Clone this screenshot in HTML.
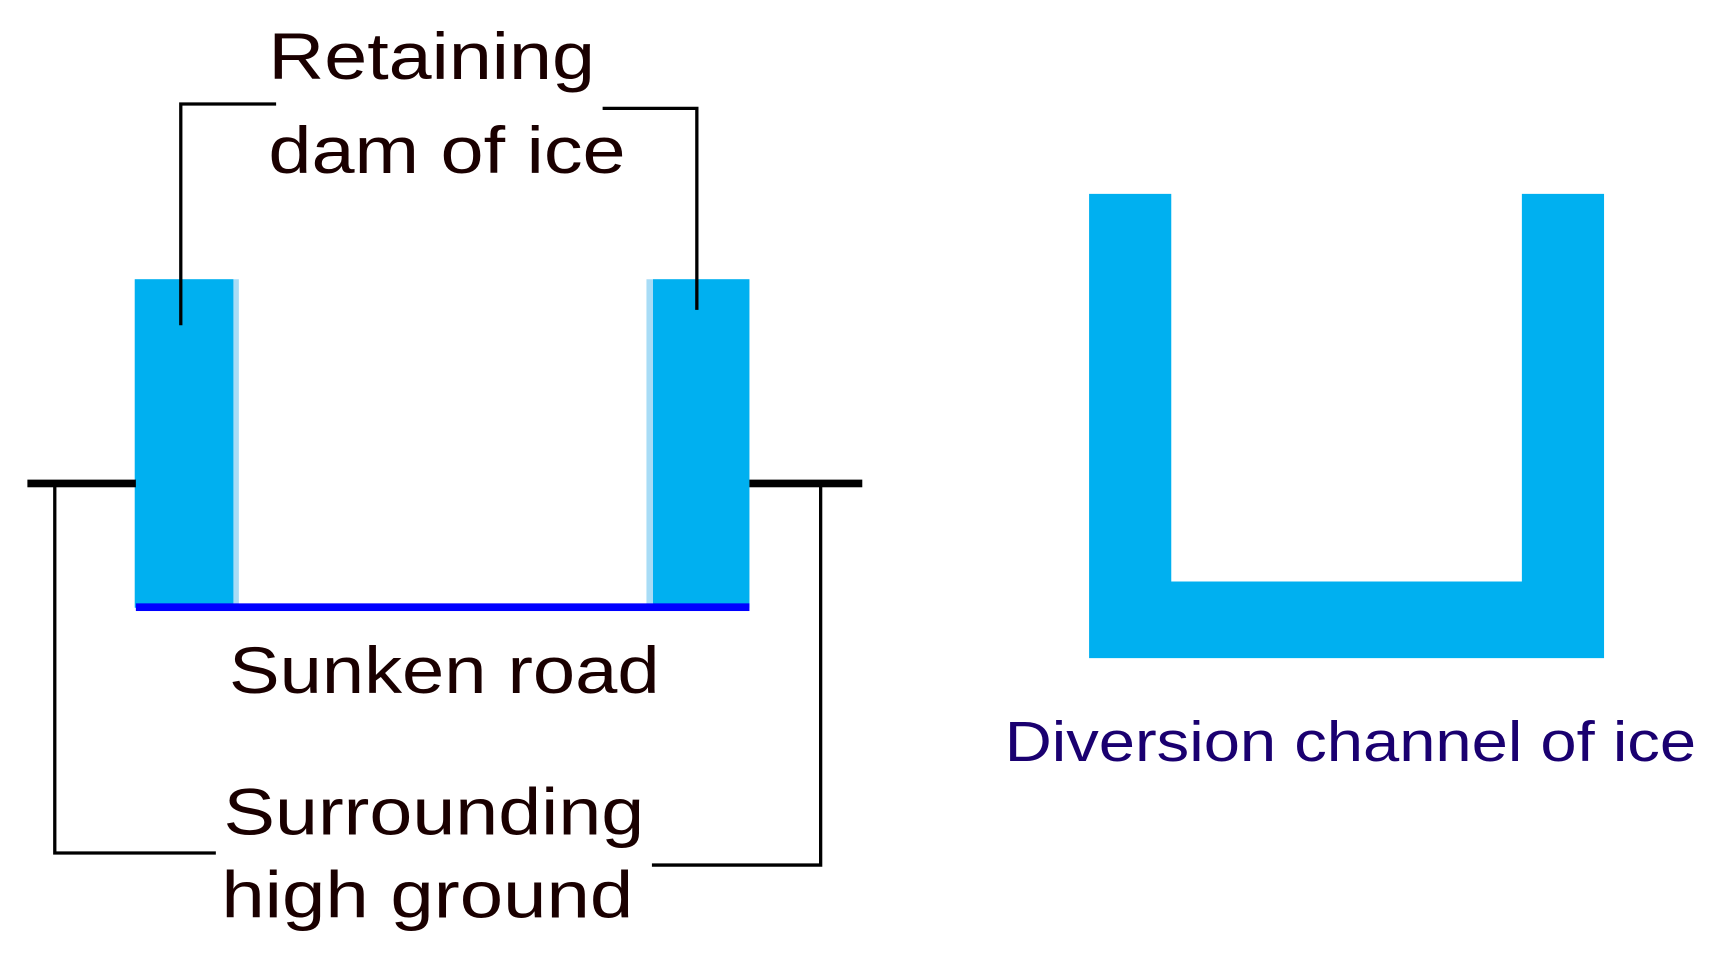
<!DOCTYPE html>
<html><head><meta charset="utf-8"><style>html,body{margin:0;padding:0;background:#fff;}svg{display:block}</style></head>
<body>
<svg width="1718" height="968" viewBox="0 0 1568 884" preserveAspectRatio="none" xmlns="http://www.w3.org/2000/svg">
<rect width="1568" height="884" fill="#fff"/>
<!-- dams -->
<rect x="123" y="255" width="95" height="300" fill="#a8dcf6"/>
<rect x="123" y="255" width="90" height="300" fill="#00b0f0"/>
<rect x="590" y="255" width="94" height="300" fill="#a8dcf6"/>
<rect x="596" y="255" width="88" height="300" fill="#00b0f0"/>
<rect x="124" y="551" width="560" height="7" fill="#0000ff"/>
<!-- ground -->
<rect x="25" y="438" width="99" height="7" fill="#000"/>
<rect x="684" y="438" width="103" height="7" fill="#000"/>
<g fill="none" stroke="#000" stroke-width="3">
<polyline points="50,441 50,779 197,779"/>
<polyline points="749,441 749,790 595,790"/>
<polyline points="165,297 165,95 252,95"/>
<polyline points="636,283 636,99 550,99"/>
</g>
<!-- U -->
<path d="M994,177 H1069 V531 H1389 V177 H1464 V601 H994 Z" fill="#00b0f0"/>
<g font-family="Liberation Sans, sans-serif" font-size="60" fill="#1a0000">
<text x="245" y="72" textLength="298" lengthAdjust="spacingAndGlyphs">Retaining</text>
<text x="245" y="158" textLength="326" lengthAdjust="spacingAndGlyphs">dam of ice</text>
<text x="209" y="633" textLength="393" lengthAdjust="spacingAndGlyphs">Sunken road</text>
<text x="204" y="762" textLength="384" lengthAdjust="spacingAndGlyphs">Surrounding</text>
<text x="202" y="838" textLength="376" lengthAdjust="spacingAndGlyphs">high ground</text>
</g>
<text x="917" y="695" font-family="Liberation Sans, sans-serif" font-size="52" fill="#1a0070" textLength="631" lengthAdjust="spacingAndGlyphs">Diversion channel of ice</text>
</svg>
</body></html>
